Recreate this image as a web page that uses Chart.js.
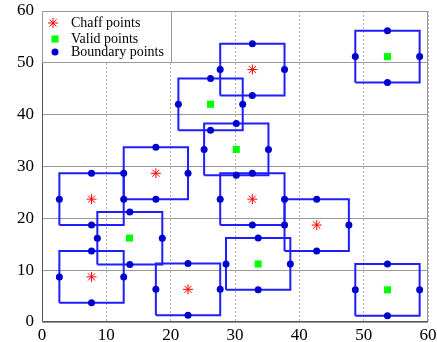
<!DOCTYPE html>
<html>
<head>
<meta charset="utf-8">
<script src="https://cdn.jsdelivr.net/npm/chart.js@4.4.1/dist/chart.umd.min.js"></script>
<style>
html,body{margin:0;padding:0;background:#fff;}
#wrap{width:437px;height:342px;}
</style>
</head>
<body>
<div id="wrap"><canvas id="chart"></canvas></div>
<script>
// ---- values ----
const chaffX = [7.7, 7.7, 17.7, 22.7, 32.7, 32.7, 42.7];
const chaffY = [8.7, 23.7, 28.7, 6.3, 48.7, 23.7, 18.7];
const validX = [13.6, 26.2, 30.2, 33.6, 53.7, 53.7];
const validY = [16.2, 42.0, 33.3, 11.2, 51.2, 6.2];
// box edges (chaff boxes first, then valid boxes)
const boxLeft   = [2.7, 2.7, 12.7, 17.7, 27.7, 27.7, 37.7, 8.6, 21.2, 25.2, 28.6, 48.7, 48.7];
const boxRight  = [12.7, 12.7, 22.7, 27.7, 37.7, 37.7, 47.7, 18.7, 31.2, 35.2, 38.6, 58.7, 58.7];
const boxBottom = [3.7, 18.7, 23.7, 1.3, 43.7, 18.7, 13.7, 11.1, 37.0, 28.3, 6.2, 46.2, 1.2];
const boxTop    = [13.7, 28.7, 33.7, 11.3, 53.7, 28.7, 23.7, 21.2, 47.0, 38.3, 16.2, 56.2, 11.2];
const xTicks = [0, 10, 20, 30, 40, 50, 60];
const yTicks = [0, 10, 20, 30, 40, 50, 60];
const legendLabels = ["Chaff points", "Valid points", "Boundary points"];

const BLUE_LINE = "#1e1eff";
const BLUE_DOT = "#0000d0";
const RED = "#ff0000";
const GREEN = "#00ff00";
const SERIF = "'Liberation Serif', 'DejaVu Serif', serif";

// boundary points sit on the middle of each box edge
const boundary = [];
boxLeft.forEach((l, i) => {
    const r = boxRight[i], b = boxBottom[i], t = boxTop[i];
    const cx = (l + r) / 2, cy = (b + t) / 2;
    boundary.push({x:l, y:cy}, {x:r, y:cy}, {x:cx, y:t}, {x:cx, y:b});
});

const datasets = [];
boxLeft.forEach((l, i) => {
    const r = boxRight[i], b = boxBottom[i], t = boxTop[i];
    datasets.push({
        label: "box" + i,
        data: [{x:l, y:b}, {x:r, y:b}, {x:r, y:t}, {x:l, y:t}, {x:l, y:b}],
        showLine: true,
        borderColor: BLUE_LINE,
        borderWidth: 2,
        pointRadius: 0,
        fill: false,
        order: 4
    });
});
datasets.push({
    label: legendLabels[2],
    data: boundary,
    pointStyle: "circle",
    pointRadius: 3.5,
    backgroundColor: BLUE_DOT,
    borderColor: BLUE_DOT,
    borderWidth: 0,
    order: 3
});
datasets.push({
    label: legendLabels[1],
    data: validX.map((x, i) => ({x, y: validY[i]})),
    pointStyle: "rect",
    pointRadius: 5,
    backgroundColor: GREEN,
    borderColor: GREEN,
    borderWidth: 0,
    order: 2
});
datasets.push({
    label: legendLabels[0],
    data: chaffX.map((x, i) => ({x, y: chaffY[i]})),
    pointStyle: "star",
    pointRadius: 5,
    borderColor: RED,
    backgroundColor: RED,
    borderWidth: 1,
    order: 1
});

// frame round the plot area
const framePlugin = {
    id: "frame",
    beforeDatasetsDraw(chart){
        const {ctx, chartArea:a} = chart;
        ctx.save();
        ctx.setLineDash([]);
        ctx.lineWidth = 1;
        ctx.strokeStyle = "#9a9a9a";
        ctx.beginPath();
        ctx.moveTo(a.left, a.top + 0.5);
        ctx.lineTo(a.right - 0.5, a.top + 0.5);
        ctx.lineTo(a.right - 0.5, a.bottom);
        ctx.stroke();
        ctx.strokeStyle = "#555";
        ctx.beginPath();
        ctx.moveTo(a.left + 0.5, a.top);
        ctx.lineTo(a.left + 0.5, a.bottom - 0.5);
        ctx.lineTo(a.right, a.bottom - 0.5);
        ctx.stroke();
        ctx.restore();
    }
};

// legend box in the top-left corner
const legendPlugin = {
    id: "boxLegend",
    afterDatasetsDraw(chart){
        const {ctx, chartArea:a} = chart;
        const x0 = a.left, y0 = a.top, w = 129, h = 51;
        ctx.save();
        ctx.fillStyle = "#fff";
        ctx.fillRect(x0, y0, w, h);
        ctx.strokeStyle = "#9a9a9a";
        ctx.lineWidth = 1;
        ctx.strokeRect(x0 + 0.5, y0 + 0.5, w, h);
        const rows = [y0 + 12, y0 + 28, y0 + 41];
        const hp = Chart.helpers;
        ctx.strokeStyle = RED;
        ctx.fillStyle = RED;
        hp.drawPoint(ctx, {pointStyle:"star", radius:5, borderWidth:1}, x0 + 11, rows[0]);
        ctx.fillStyle = GREEN;
        ctx.strokeStyle = GREEN;
        hp.drawPoint(ctx, {pointStyle:"rect", radius:5, borderWidth:0}, x0 + 13, rows[1]);
        ctx.fillStyle = BLUE_DOT;
        ctx.strokeStyle = BLUE_DOT;
        hp.drawPoint(ctx, {pointStyle:"circle", radius:3.5, borderWidth:0}, x0 + 13, rows[2]);
        ctx.fillStyle = "#000";
        ctx.font = "14px " + SERIF;
        ctx.textBaseline = "middle";
        ctx.textAlign = "left";
        legendLabels.forEach((t, i) => ctx.fillText(t, x0 + 29, rows[i]));
        ctx.restore();
    }
};

new Chart(document.getElementById("chart"), {
    type: "scatter",
    data: { datasets },
    options: {
        responsive: true,
        maintainAspectRatio: false,
        animation: false,
        layout: { padding: { top: 11, right: 9, left: 0, bottom: 0 } },
        plugins: { legend: { display: false }, tooltip: { enabled: false } },
        scales: {
            x: {
                type: "linear",
                min: 0, max: 60,
                afterBuildTicks: s => { s.ticks = xTicks.map(v => ({value: v})); },
                afterFit: s => { s.height = 20; s.paddingLeft = 0; s.paddingRight = 0; },
                grid: { color: "#b0b0b0", drawTicks: false },
                border: { display: false, dash: [2, 2] },
                ticks: { color: "#000", padding: 3, font: { family: SERIF, size: 17 }, maxRotation: 0 }
            },
            y: {
                type: "linear",
                min: 0, max: 60,
                afterBuildTicks: s => { s.ticks = yTicks.map(v => ({value: v})); },
                afterFit: s => { s.width = 42; s.paddingTop = 0; s.paddingBottom = 0; },
                grid: { color: "#9a9a9a", drawTicks: false },
                border: { display: false },
                ticks: { color: "#000", padding: 8, font: { family: SERIF, size: 17 } }
            }
        }
    },
    plugins: [framePlugin, legendPlugin]
});
</script>
</body>
</html>
